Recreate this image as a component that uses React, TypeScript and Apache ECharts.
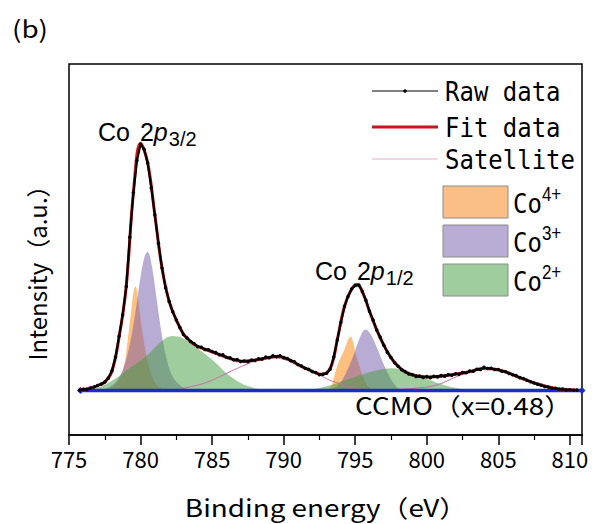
import React, { useEffect, useRef } from "react";
import * as echarts from "echarts";

// ---------- data ----------
const xTicks = [775, 780, 785, 790, 795, 800, 805, 810];
const energyMin = 775;
const energyMax = 810.85;

// raw spectrum, sampled every 0.25 eV starting at 775.75 eV
const rawStart = 775.75;
const rawStep = 0.25;
const rawIntensity = [
  0.2, 0.5, 0.4, 1.0, 1.4, 2.0, 2.6, 3.4, 5.0, 8.0, 13.5, 22.0, 30.5, 42.0, 62.0, 80.0,
  93.0, 99.5, 97.5, 92.0, 82.0, 71.0, 59.5, 49.5, 41.5, 36.0, 31.8, 28.5, 25.5, 22.6, 21.2, 19.8,
  18.9, 17.7, 17.5, 16.6, 16.5, 15.8, 15.3, 14.5, 14.4, 13.4, 13.2, 12.4, 12.5, 11.7, 11.9, 11.6,
  12.3, 12.1, 12.8, 12.7, 13.5, 13.2, 14.0, 13.6, 14.0, 13.2, 12.9, 12.0, 11.6, 10.5, 9.9, 9.0,
  8.6, 7.7, 7.3, 6.4, 6.6, 7.0, 8.6, 13.5, 20.5, 27.5, 34.0, 38.0, 41.0, 42.5, 42.6, 40.0,
  36.5, 32.0, 28.5, 24.5, 21.5, 18.3, 15.5, 13.3, 11.2, 9.8, 8.4, 7.6, 6.7, 6.4, 5.7, 5.8,
  5.3, 5.6, 5.2, 5.7, 5.5, 6.0, 5.8, 6.4, 6.2, 6.8, 6.6, 7.3, 7.2, 7.9, 7.8, 8.6,
  8.5, 9.4, 8.9, 9.0, 8.5, 8.5, 7.8, 7.6, 6.9, 6.4, 6.0, 5.2, 4.8, 4.1, 3.5, 3.0,
  2.5, 2.1, 1.6, 1.4, 0.9, 0.9, 0.5, 0.6, 0.2, 0.3, 0.1, 0.2,
];

const fitData = [
  [775.8, 0.3], [776.5, 1], [777, 2], [777.5, 3.4], [778, 7.8], [778.5, 21.5], [779, 42],
  [779.5, 80], [780, 100], [780.5, 92], [781, 71], [781.5, 49.5], [782, 36], [782.5, 28.5],
  [783, 22.8], [783.5, 19.8], [784, 17.8], [785, 15.6], [786, 13.4], [787, 11.8], [788, 12.3],
  [789, 13.3], [789.6, 13.8], [790.3, 12.8], [791, 10.4], [791.8, 8.2], [792.6, 6.6], [793, 7.1],
  [793.4, 11], [793.75, 20.5], [794.25, 34], [794.75, 41], [795.15, 42.8], [795.5, 40], [796, 32],
  [796.5, 24.5], [797, 18.3], [797.5, 13.3], [798, 9.8], [798.5, 7.6], [799, 6.3], [800, 5.4],
  [801, 5.8], [802, 6.6], [803, 7.6], [803.9, 8.9], [804.5, 8.8], [805.5, 7.6], [806.5, 5.2],
  [807.5, 3.1], [808.5, 1.4], [809.5, 0.5], [810.5, 0.1],
];

const co4p32 = [
  [777.6, 0], [778.2, 2], [778.78, 8.3], [779.13, 21.7], [779.38, 34], [779.55, 41], [779.65, 42],
  [779.85, 36], [780.18, 21.7], [780.65, 8.3], [781.1, 2.5], [781.7, 0],
];
const co3p32 = [
  [777.3, 0], [778.2, 3], [778.8, 9], [779.3, 20], [779.7, 34], [780.0, 46], [780.3, 54.5],
  [780.5, 56], [780.8, 50], [781.1, 38], [781.5, 22], [781.9, 11], [782.3, 5], [782.9, 1.5], [783.6, 0],
];
const co2p32 = [
  [776.5, 0], [777.4, 2], [778.3, 5], [779.1, 8.5], [780, 12], [780.6, 15], [781.5, 20],
  [782.2, 22], [783, 21], [784, 17], [785, 12.5], [786, 7], [787, 3], [787.8, 1.2], [788.6, 0],
];
const co4p12 = [
  [792.9, 0], [793.3, 1.5], [793.46, 4.2], [793.81, 11], [794.2, 16], [794.55, 21], [794.67, 21.8],
  [795.09, 13.7], [795.55, 5.6], [795.9, 1.5], [796.3, 0],
];
const co3p12 = [
  [793.2, 0], [793.8, 2], [794.3, 6.5], [794.8, 13], [795.2, 19.5], [795.55, 24], [795.75, 24.7],
  [796.1, 22.5], [796.49, 17.7], [797.07, 9.6], [797.54, 4.2], [797.98, 1], [798.5, 0],
];
const co2p12 = [
  [791.5, 0], [792.5, 1], [793.5, 2.5], [794.5, 4.5], [795.5, 6.5], [796.6, 8.3], [797.6, 9],
  [798.5, 8.2], [799.4, 6.2], [800.2, 4.2], [801.2, 2.2], [802.2, 0.8], [803.3, 0],
];
const satellite1 = [
  [782.3, 0], [783.4, 1.4], [784.5, 3], [785.5, 5.5], [786.4, 8], [787.3, 10.3], [788.2, 12.2],
  [789.2, 13.2], [790.0, 12.6], [790.9, 10.5], [791.8, 8.3], [792.5, 6.3], [793.2, 4.2],
  [793.7, 3.2], [794.5, 1.6], [795.5, 0.5], [796.3, 0],
];
const satellite2 = [
  [796.5, 0], [798, 0.4], [799.5, 1.1], [800.7, 2.2], [802.1, 5.6], [803.1, 7.6], [804.0, 8.8],
  [805.0, 8.2], [806.0, 6.1], [807.0, 3.9], [808.0, 2], [809.0, 0.7], [810, 0],
];
const baselineData = [[775.8, 0], [810.85, 0]];

const legendLines = ["Raw data", "Fit data", "Satellite"];
const legendBoxes = [
  { base: "Co", sup: "4+" },
  { base: "Co", sup: "3+" },
  { base: "Co", sup: "2+" },
];

// ---------- styles ----------
const ORANGE = "rgba(255,128,0,0.5)";
const PURPLE = "rgba(115,90,170,0.5)";
const GREEN = "rgba(65,155,60,0.5)";
const ORANGE_BOX = "#FBBF86";
const PURPLE_BOX = "#B9ADD5";
const GREEN_BOX = "#A0CD9D";
const SANS = "'Noto Sans CJK JP', 'Noto Sans', sans-serif";
const LATIN = "'Liberation Sans', Arial, sans-serif";
const MONO = "'DejaVu Sans Mono', 'Liberation Mono', monospace";
const WIDE = 1.16;

function areaSeries(data: number[][], color: string) {
  return {
    type: "line",
    data,
    smooth: 0.35,
    showSymbol: false,
    symbol: "none",
    lineStyle: { width: 0, color },
    itemStyle: { color },
    areaStyle: { color, opacity: 1, origin: 0 },
    z: 2,
    silent: true,
  };
}

function peakLabel(x: number, y: number, sub: string) {
  return {
    type: "text",
    x,
    y,
    style: {
      text: `{a|Co}{b|2}{i|p}{s|${sub}}`,
      fill: "#000",
      verticalAlign: "middle",
      rich: {
        a: { font: `25px ${LATIN}`, fill: "#000", padding: [0, 10, 0, 0] },
        b: { font: `25px ${LATIN}`, fill: "#000" },
        i: { font: `italic 25px ${LATIN}`, fill: "#000" },
        s: { font: `20px ${LATIN}`, fill: "#000", padding: [13, 0, 0, 1] },
      },
    },
  };
}

export default function App() {
  const ref = useRef<HTMLDivElement>(null);

  useEffect(() => {
    if (!ref.current) return;
    const chart = echarts.init(ref.current, null, { renderer: "svg" });
    const rawData = rawIntensity.map((v, i) => [rawStart + i * rawStep, v]);

    const legendX0 = 372;
    const legendX1 = 438;
    const legendTextX = 445;
    const lineRowsY = [91, 127, 159];
    const boxRowsY = [186, 225, 264];

    const graphic: any[] = [
      {
        type: "text",
        x: 12,
        y: 27,
        scaleX: WIDE,
        style: { text: "(b)", font: `24px ${SANS}`, fill: "#000", verticalAlign: "middle" },
      },
      {
        type: "text",
        x: 326,
        y: 506,
        scaleX: WIDE,
        style: { text: "Binding energy（eV）", font: `24px ${SANS}`, fill: "#000", align: "center", verticalAlign: "middle" },
      },
      {
        type: "text",
        x: 36,
        y: 267,
        rotation: Math.PI / 2,
        style: { text: "Intensity（a.u.）", font: `24px ${SANS}`, fill: "#000", align: "center", verticalAlign: "middle" },
      },
      {
        type: "text",
        x: 572,
        y: 404,
        scaleX: WIDE,
        style: { text: "CCMO（x=0.48）", font: `24px ${SANS}`, fill: "#000", align: "right", verticalAlign: "middle" },
      },
      peakLabel(98, 132, "3/2"),
      peakLabel(315, 271, "1/2"),
      // legend: line samples
      { type: "line", shape: { x1: legendX0, y1: lineRowsY[0], x2: legendX1, y2: lineRowsY[0] }, style: { stroke: "#000", lineWidth: 1 } },
      { type: "circle", shape: { cx: (legendX0 + legendX1) / 2, cy: lineRowsY[0], r: 1.8 }, style: { fill: "#000" } },
      { type: "line", shape: { x1: legendX0, y1: lineRowsY[1], x2: legendX1, y2: lineRowsY[1] }, style: { stroke: "#C8141E", lineWidth: 3 } },
      { type: "line", shape: { x1: legendX0, y1: lineRowsY[2], x2: legendX1, y2: lineRowsY[2] }, style: { stroke: "#E6AACB", lineWidth: 1 } },
    ];
    legendLines.forEach((t, i) => {
      graphic.push({
        type: "text",
        x: legendTextX,
        y: lineRowsY[i],
        scaleY: 1.14,
        style: { text: t, font: `24px ${MONO}`, fill: "#000", verticalAlign: "middle" },
      });
    });
    const boxColors = [ORANGE_BOX, PURPLE_BOX, GREEN_BOX];
    legendBoxes.forEach((b, i) => {
      graphic.push({
        type: "rect",
        shape: { x: 443, y: boxRowsY[i], width: 65, height: 32 },
        style: { fill: boxColors[i], stroke: "#8a8a8a", lineWidth: 1 },
      });
      graphic.push({
        type: "text",
        x: 513,
        y: boxRowsY[i] + 17,
        scaleY: 1.14,
        style: {
          text: `${b.base}{s|${b.sup}}`,
          font: `24px ${MONO}`,
          fill: "#000",
          verticalAlign: "middle",
          rich: { s: { font: `17px ${LATIN}`, fill: "#000", padding: [0, 0, 15, 0] } },
        },
      });
    });

    const option: any = {
      animation: false,
      backgroundColor: "#fff",
      grid: {
        left: 69,
        top: 64,
        width: 513,
        height: 371,
        show: true,
        borderColor: "#000",
        borderWidth: 1.5,
        backgroundColor: "transparent",
      },
      xAxis: {
        type: "value",
        min: energyMin,
        max: energyMax,
        interval: 5,
        axisLine: { show: true, onZero: false, lineStyle: { color: "#000", width: 1.5 } },
        axisTick: { show: true, inside: false, length: 10, lineStyle: { color: "#000", width: 1.5 } },
        minorTick: { show: true, splitNumber: 2, length: 5, lineStyle: { color: "#000", width: 1.2 } },
        splitLine: { show: false },
        axisLabel: {
          color: "#000",
          fontSize: 22,
          fontFamily: SANS,
          margin: 12,
          showMaxLabel: false,
          formatter: (v: number) => (xTicks.includes(Math.round(v)) && Math.abs(v - Math.round(v)) < 1e-6 ? String(Math.round(v)) : ""),
        },
      },
      yAxis: {
        type: "value",
        min: -18,
        max: 132,
        show: false,
        splitLine: { show: false },
      },
      graphic,
      series: [
        areaSeries(co4p32, ORANGE),
        areaSeries(co4p12, ORANGE),
        areaSeries(co3p32, PURPLE),
        areaSeries(co3p12, PURPLE),
        areaSeries(co2p32, GREEN),
        areaSeries(co2p12, GREEN),
        {
          type: "line",
          data: satellite1,
          smooth: 0.4,
          showSymbol: false,
          lineStyle: { color: "#C46FA6", width: 1 },
          z: 3,
        },
        {
          type: "line",
          data: satellite2,
          smooth: 0.4,
          showSymbol: false,
          lineStyle: { color: "#C46FA6", width: 1 },
          z: 3,
        },
        {
          type: "line",
          data: baselineData,
          symbol: "diamond",
          symbolSize: 7,
          showSymbol: true,
          itemStyle: { color: "#1A2BD0" },
          lineStyle: { color: "#1A2BD0", width: 3.5 },
          z: 4,
        },
        {
          type: "line",
          data: fitData,
          smooth: 0.4,
          showSymbol: false,
          lineStyle: { color: "#D0141E", width: 3 },
          z: 5,
        },
        {
          type: "line",
          data: rawData,
          showSymbol: true,
          symbol: "circle",
          symbolSize: 3.5,
          itemStyle: { color: "#000" },
          lineStyle: { color: "#000", width: 2.2 },
          z: 6,
        },
      ],
    };
    chart.setOption(option);
    return () => chart.dispose();
  }, []);

  return (
    <div
      ref={ref}
      style={{ position: "fixed", left: 0, top: 0, width: 595, height: 524, background: "#fff" }}
    />
  );
}
